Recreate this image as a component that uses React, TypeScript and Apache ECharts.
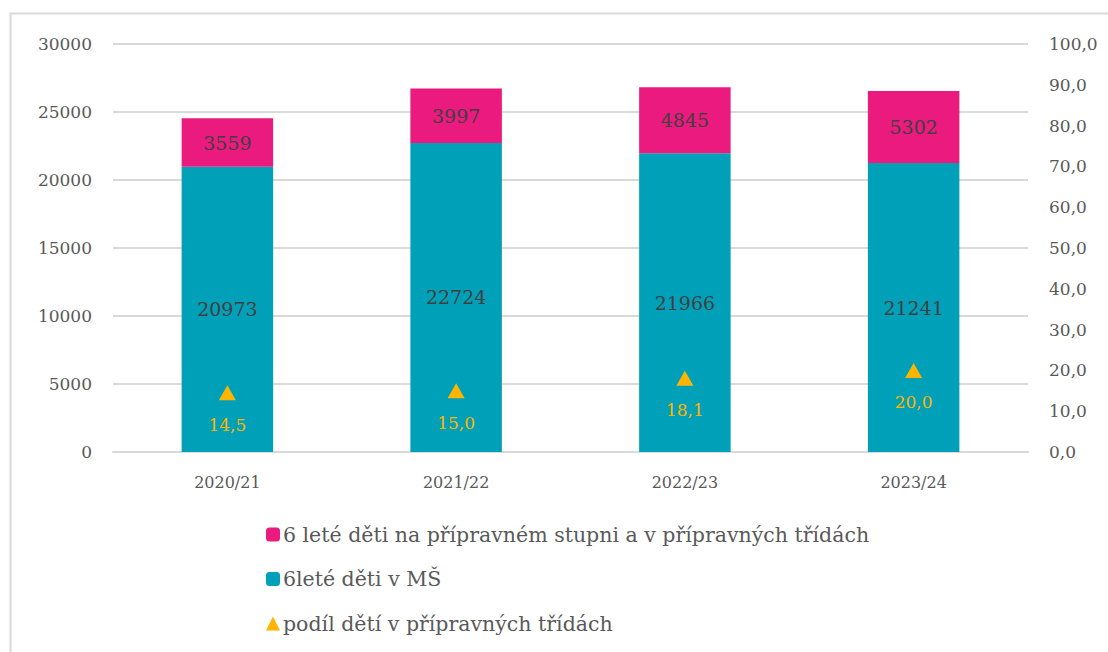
import React, { useEffect, useRef } from "react";
import * as echarts from "echarts";

const categories = ["2020/21", "2021/22", "2022/23", "2023/24"];
const childrenInMS = [20973, 22724, 21966, 21241];
const childrenPrep = [3559, 3997, 4845, 5302];
const sharePrep = [14.5, 15.0, 18.1, 20.0];

const leftTicks = { min: 0, max: 30000, interval: 5000 };
const rightTicks = { min: 0, max: 100, interval: 10 };

const seriesNames = [
  "6 leté děti na přípravném stupni a v přípravných třídách",
  "6leté děti v MŠ",
  "podíl dětí v přípravných třídách",
];

const FONT = "DejaVu Serif";
const TXT = "#595959";

export default function App() {
  const ref = useRef<HTMLDivElement>(null);
  useEffect(() => {
    const chart = echarts.init(ref.current!, null, { renderer: "svg" });
    chart.setOption({
      animation: false,
      textStyle: { fontFamily: FONT },
      graphic: [
        {
          type: "rect",
          shape: { x: 10.5, y: 13.5, width: 1300, height: 800 },
          style: { fill: "none", stroke: "#d9d9d9", lineWidth: 2 },
          silent: true,
        },
      ],
      grid: { left: 113, right: 80, top: 44, bottom: 200 },
      legend: {
        orient: "vertical",
        left: 261,
        top: 519,
        itemGap: 23.5,
        itemWidth: 14,
        itemHeight: 14,
        data: seriesNames,
        textStyle: { fontFamily: FONT, fontSize: 20.5, color: TXT, padding: [0, 0, 0, -2] },
      },
      xAxis: {
        type: "category",
        data: categories,
        axisLine: { lineStyle: { color: "#d9d9d9", width: 2 } },
        axisTick: { show: false },
        axisLabel: { color: TXT, fontSize: 16, fontFamily: FONT, margin: 22 },
      },
      yAxis: [
        {
          type: "value",
          ...leftTicks,
          axisLine: { show: false },
          axisTick: { show: false },
          splitLine: { lineStyle: { color: "#d9d9d9", width: 2 } },
          axisLabel: {
            color: TXT,
            fontSize: 17,
            fontFamily: FONT,
            margin: 21,
            formatter: (v: number) => String(v),
          },
        },
        {
          type: "value",
          ...rightTicks,
          axisLine: { show: false },
          axisTick: { show: false },
          splitLine: { show: false },
          axisLabel: {
            color: TXT,
            fontSize: 17,
            fontFamily: FONT,
            margin: 21,
            formatter: (v: number) => v.toFixed(1).replace(".", ","),
          },
        },
      ],
      series: [
        {
          name: seriesNames[1],
          type: "bar",
          stack: "total",
          data: childrenInMS,
          barWidth: "40%",
          itemStyle: { color: "#00A0B8" },
          label: { show: true, position: "inside", color: "#404040", fontSize: 19, fontFamily: FONT },
        },
        {
          name: seriesNames[0],
          type: "bar",
          stack: "total",
          data: childrenPrep,
          barWidth: "40%",
          itemStyle: { color: "#EA1A7F" },
          label: { show: true, position: "inside", color: "#404040", fontSize: 19, fontFamily: FONT },
        },
        {
          name: seriesNames[2],
          type: "scatter",
          yAxisIndex: 1,
          data: sharePrep,
          symbol: "triangle",
          symbolSize: [17, 15],
          itemStyle: { color: "#FFB400", opacity: 1 },
          label: {
            show: true,
            position: "bottom",
            distance: 16,
            color: "#FFB400",
            opacity: 1,
            fontSize: 17,
            fontFamily: FONT,
            formatter: (p: any) => p.value.toFixed(1).replace(".", ","),
          },
        },
      ],
    });
    return () => chart.dispose();
  }, []);
  return (
    <div
      ref={ref}
      style={{ position: "absolute", left: 0, top: 0, width: 1108, height: 652, background: "#fff" }}
    />
  );
}
